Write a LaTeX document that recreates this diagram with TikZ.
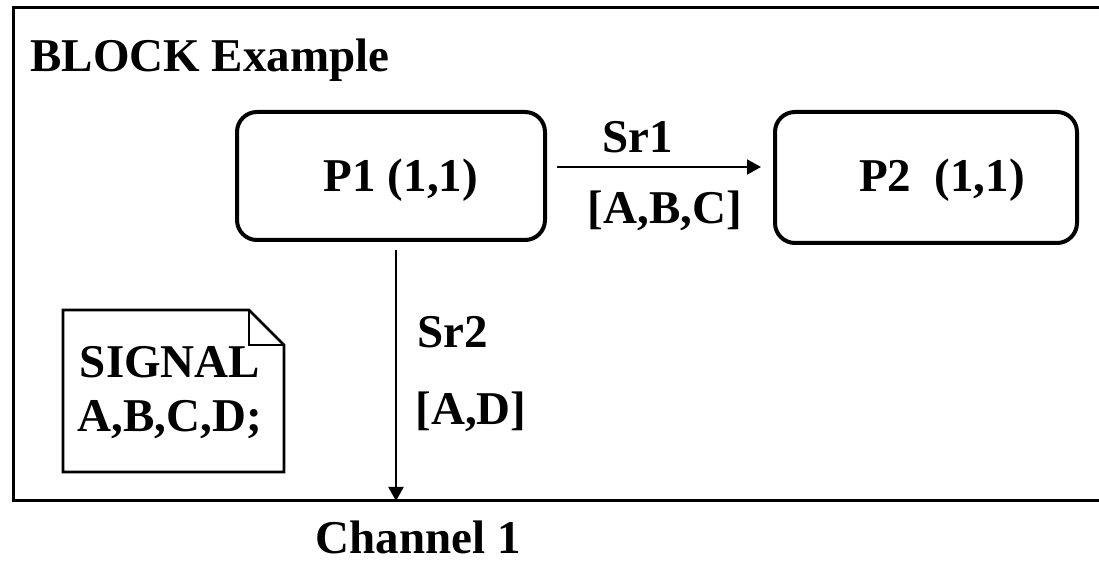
\documentclass[tikz,border=0pt]{standalone}
\usepackage{fontspec}
\setmainfont{Liberation Serif}
\usetikzlibrary{arrows.meta}

\tikzset{
  proc/.style={draw, line width=2pt, rounded corners=10pt, minimum width=154pt, minimum height=64pt},
  lbl/.style={font=\fontsize{23.5}{27}\selectfont\bfseries, inner sep=0pt},
  sig/.style={line width=1pt, -{Triangle[length=7pt,width=7.5pt]}},
}

\begin{document}
\begin{tikzpicture}[x=0.5pt,y=-0.5pt]
  \useasboundingbox (0,0) rectangle (1099,561);
  % block frame, open on the right
  \draw[line width=1.5pt] (1099,8) -- (13,8) -- (13,501) -- (1099,501);
  \node[lbl] (title) at (210,60) {BLOCK Example};

  % processes
  \node[proc] (p1) at (391,176) {};
  \node[proc, minimum width=151pt, minimum height=65.5pt] (p2) at (926,177.5) {};
  \node[lbl] (p1txt) at (401,180) {P1 (1,1)};
  \node[lbl] (p2txt) at (942,180) {P2~~(1,1)};

  % signal route Sr1
  \coordinate (s1) at ([xshift=5pt,yshift=4.5pt]p1.east);
  \draw[sig, shorten >=6pt] (s1) -- (s1 -| p2.west);
  \node[lbl] (sr1) at (638,137) {Sr1};
  \node[lbl] (sr1sig) at (665,211) {[A,B,C]};

  % signal route Sr2 to the channel
  \coordinate (s2) at ([xshift=2.5pt,yshift=-4pt]p1.south);
  \coordinate (ch) at (396,501);
  \draw[sig] (s2) -- (ch);
  \node[lbl] (sr2) at (453,332) {Sr2};
  \node[lbl] (sr2sig) at (471,412) {[A,D]};
  \node[lbl] (chan) at (418,537) {Channel 1};

  % signal declaration note
  \draw[line width=1.3pt] (63,310) -- (249,310) -- (284,345) -- (284,472) -- (63,472) -- cycle;
  \draw[line width=1.3pt] (249,310) -- (249,345) -- (284,345);
  \node[lbl, align=center] (decl) at (170,393) {SIGNAL\\A,B,C,D;};
\end{tikzpicture}
\end{document}
